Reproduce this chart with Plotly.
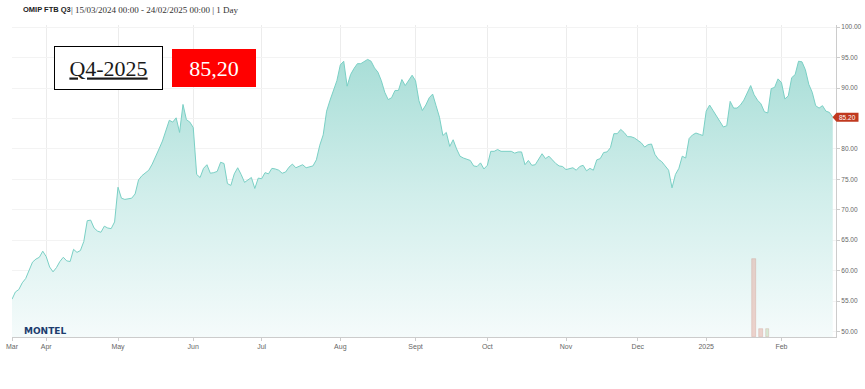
import pandas as pd
import plotly.graph_objects as go

# ---- data (daily settlement, trading days only) ----
mar_vals = [55.3, 56.5, 56.9, 58.0, 58.7, 60.0, 61.4, 61.9, 62.2, 63.2]
apr_vals = [62.3, 60.6, 59.8, 60.5, 61.5, 62.2, 61.6, 61.5, 63.5, 63.0, 63.3,
            64.8, 68.2, 68.3, 67.0, 66.5, 66.3, 67.3, 67.0, 66.9, 68.0]
may_vals = [73.7, 71.9, 71.7, 71.8, 71.9, 72.6, 74.9, 75.6, 76.0, 76.5, 77.5,
            78.9, 80.0, 81.3, 83.0, 84.7, 84.4, 85.1, 82.7, 87.3, 84.8, 84.4]
jun_vals = [83.5, 75.8, 75.3, 76.8, 77.4, 76.0, 76.1, 76.3, 77.8, 77.6,
            74.3, 74.0, 75.9, 76.9, 75.8, 74.5, 74.9, 75.3, 73.5, 75.2]
jul_vals = [75.1, 76.1, 75.9, 76.8, 76.7, 76.5, 76.0, 76.2, 77.0, 77.5, 76.9, 77.1,
            77.4, 76.9, 77.0, 77.2, 78.2, 80.6, 82.3, 86.2, 88.0, 89.6, 91.2]
aug_vals = [93.8, 94.4, 90.3, 92.2, 93.2, 94.0, 94.0, 94.4, 94.7, 94.4, 93.3,
            92.6, 91.2, 89.3, 88.1, 88.4, 89.6, 89.6, 91.4, 90.4, 91.3, 92.1]
sep_vals = [91.2, 87.9, 86.3, 87.2, 88.4, 89.0, 87.1, 85.2, 82.2, 82.7, 80.4,
            81.5, 80.0, 78.8, 78.5, 78.3, 78.1, 77.2, 77.1, 77.7, 76.7]
oct_vals = [77.3, 79.6, 79.6, 79.9, 79.6, 79.6, 79.6, 79.6, 79.3, 79.5, 79.5, 77.4,
            78.1, 77.3, 77.4, 78.3, 79.2, 78.4, 78.8, 78.2, 77.6, 77.2, 77.1]
nov_vals = [76.6, 76.7, 76.9, 76.5, 77.1, 77.3, 76.4, 76.8, 76.5, 78.2, 78.4,
            79.4, 79.5, 80.2, 82.5, 82.5, 83.2, 82.7, 82.0, 82.0, 81.8]
dec_vals = [81.4, 81.0, 80.3, 80.7, 80.8, 79.1, 78.3, 77.9, 77.2, 76.5,
            73.6, 75.8, 76.8, 78.8, 78.5, 81.7, 82.3, 82.6, 82.4, 82.2]
jan_vals = [86.2, 87.2, 86.3, 85.5, 84.5, 83.6, 83.8, 87.8, 86.7, 86.7, 87.2,
            88.0, 89.2, 90.4, 88.9, 88.0, 87.4, 86.1, 85.9, 89.9, 90.1, 91.5]
feb_vals = [90.9, 88.2, 88.7, 91.7, 92.2, 94.4, 94.3, 93.0, 90.6, 89.3, 87.1,
            86.7, 87.1, 86.2, 86.0, 85.2]

holidays = ["2024-03-29", "2024-04-01", "2024-05-01",
            "2024-12-25", "2024-12-26", "2025-01-01"]

tick_dates = ["2024-03-15", "2024-04-02", "2024-05-02", "2024-06-03", "2024-07-01",
              "2024-08-01", "2024-09-02", "2024-10-01", "2024-11-01", "2024-12-02",
              "2025-01-02", "2025-02-03"]
tick_labels = ["Mar", "Apr", "May", "Jun", "Jul", "Aug", "Sept", "Oct", "Nov", "Dec",
               "2025", "Feb"]

vol_dates = ["2025-01-22", "2025-01-24", "2025-01-28"]
vol_values = [100, 10, 10]
vol_colors = ["rgba(228,176,166,0.55)", "rgba(228,176,166,0.55)", "rgba(190,220,180,0.55)"]

y_ticks = [50, 55, 60, 65, 70, 75, 80, 85, 90, 95, 100]

# ---- build ----
values = (mar_vals + apr_vals + may_vals + jun_vals + jul_vals + aug_vals +
          sep_vals + oct_vals + nov_vals + dec_vals + jan_vals + feb_vals)
days = pd.bdate_range("2024-03-15", "2025-02-24")
days = [d.strftime("%Y-%m-%d") for d in days if d.strftime("%Y-%m-%d") not in holidays]
assert len(days) == len(values), (len(days), len(values))
last = values[-1]
# the label hidden behind the last-price flag
y_text = ["" if abs(v - last) < 2.5 else f"{v:.2f}" for v in y_ticks]

W, H = 865, 389
ML, MR, MT, MB = 12, 29, 25, 52
PW, PH = W - ML - MR, H - MT - MB


def px(x):
    return (x - ML) / PW


def py(y):
    return (H - MB - y) / PH


fig = go.Figure()
fig.add_trace(go.Scatter(
    x=days, y=values, mode="lines",
    line=dict(color="#7ad0c5", width=1),
    fill="tozeroy",
    fillgradient=dict(type="vertical", start=49, stop=96,
                      colorscale=[[0, "#f5fbfb"], [0.5, "#d1eeeb"], [1, "#a6ddd6"]]),
    hoverinfo="skip", showlegend=False,
))
fig.add_trace(go.Bar(
    x=vol_dates, y=vol_values, yaxis="y2", width=1.0,
    marker=dict(color=vol_colors, line=dict(color="rgba(200,140,130,0.5)", width=0.6)),
    showlegend=False, hoverinfo="skip",
))

fig.update_layout(
    width=W, height=H,
    margin=dict(l=ML, r=MR, t=MT, b=MB),
    paper_bgcolor="white", plot_bgcolor="white",
    font=dict(family="Liberation Sans, Arial, sans-serif", size=7, color="#666"),
    xaxis=dict(
        type="category", range=[0, len(values) - 1 + 0.95], automargin=False,
        tickmode="array", tickvals=tick_dates, ticktext=tick_labels,
        showgrid=True, gridcolor="#ececec", gridwidth=1,
        showline=True, linecolor="#cccccc", linewidth=1,
        ticks="outside", ticklen=3, tickcolor="#cccccc",
        tickfont=dict(size=7, color="#666"), tickangle=0,
        zeroline=False,
    ),
    yaxis=dict(
        side="right", range=[49.1, 100.35], automargin=False,
        tickmode="array", tickvals=y_ticks, ticktext=y_text,
        showgrid=True, gridcolor="#f3f3f3", gridwidth=1,
        showline=True, linecolor="#cccccc", linewidth=1,
        ticks="outside", ticklen=3, tickcolor="#cccccc",
        tickfont=dict(size=6.5, color="#666"),
        zeroline=False,
    ),
    yaxis2=dict(overlaying="y", range=[0, 400], visible=False, showgrid=False),
    bargap=0,
)

# last price flag
fig.add_shape(type="path", xref="paper", yref="y", xsizemode="pixel", ysizemode="pixel",
              xanchor=px(832.5), yanchor=last,
              path="M 0,0 L 4,4.5 L 26,4.5 L 26,-4.5 L 4,-4.5 Z",
              fillcolor="#c0391f", line=dict(width=0))
fig.add_annotation(x=px(838), xref="paper", y=last, yref="y", xanchor="left",
                   text=f"{last:.2f}", showarrow=False, borderpad=0,
                   font=dict(size=6.5, color="white", family="Liberation Sans, Arial"))

# header
fig.add_annotation(x=px(21), xref="paper", y=py(10), yref="paper", showarrow=False,
                   text="<b>OMIP FTB Q3</b>", xanchor="left", yanchor="middle",
                   font=dict(family="Liberation Sans, Arial", size=7.5, color="#222"))
fig.add_annotation(x=px(69), y=py(10), xref="paper", yref="paper", showarrow=False,
                   text="| 15/03/2024 00:00 - 24/02/2025 00:00 | 1 Day",
                   xanchor="left", yanchor="middle",
                   font=dict(family="Liberation Serif, Georgia, serif", size=9, color="#333"))

# boxes
fig.add_annotation(x=px(108), y=py(68.5), xref="paper", yref="paper",
                   xanchor="center", yanchor="middle",
                   showarrow=False, text="<u>Q4-2025</u>", width=107, height=42,
                   bgcolor="white", bordercolor="black", borderwidth=1, borderpad=0,
                   font=dict(family="Liberation Serif, Times New Roman, serif", size=22, color="#1a1a1a"))
fig.add_annotation(x=px(214.2), y=py(68.3), xref="paper", yref="paper",
                   xanchor="center", yanchor="middle",
                   showarrow=False, text="85,20", width=84, height=38,
                   bgcolor="#ff0000", borderwidth=0, borderpad=0,
                   font=dict(family="Liberation Serif, Times New Roman, serif", size=22, color="white"))

# logo
fig.add_annotation(x=px(22), y=py(331), xref="paper", yref="paper",
                   showarrow=False, text="<b>MONTEL</b>", xanchor="left", yanchor="middle",
                   font=dict(family="DejaVu Sans, Arial", size=9, color="#1c3d6e"))

fig.write_html("out.html")
